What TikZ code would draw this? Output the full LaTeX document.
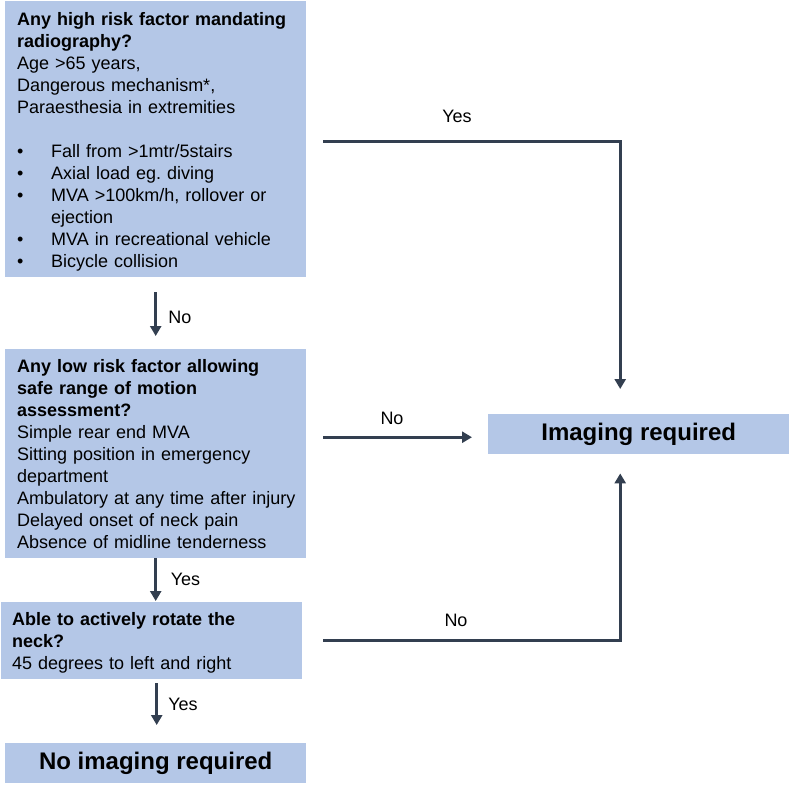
\documentclass[tikz,border=0pt]{standalone}
\usepackage{fontspec}
\setmainfont{Liberation Sans}
\usetikzlibrary{arrows.meta,calc}
\definecolor{boxfill}{HTML}{B4C7E7}
\definecolor{linecol}{HTML}{333F50}
\hyphenpenalty=10000
\exhyphenpenalty=10000
\frenchspacing
\newcommand{\topstrut}{\rule{0pt}{18pt}}
\newcommand{\botstrut}{\rule[-4pt]{0pt}{4pt}}
\newcommand{\bul}[1]{\makebox[34pt][l]{\textbullet}#1}
\begin{document}
\begin{tikzpicture}[x=1pt,y=-1pt,
  qbox/.style={fill=boxfill, anchor=north west, inner ysep=0pt, inner xsep=12pt,
    minimum width=301pt, align=left, text=black,
    font=\fontsize{18pt}{22pt}\selectfont},
  endbox/.style={fill=boxfill, anchor=north west, inner sep=0pt,
    minimum width=301pt, minimum height=40pt, align=center, text=black,
    font=\fontsize{24pt}{28pt}\selectfont\bfseries},
  conn/.style={draw=linecol, line width=3pt, -{Triangle[length=10pt,width=11pt]}},
  lbl/.style={inner sep=0pt, text=black, font=\fontsize{18pt}{22pt}\selectfont},
]
\useasboundingbox (0,0) rectangle (789,785);

\node[qbox, minimum height=276pt, text width=277pt] (b1) at (5,1) {%
\topstrut\textbf{Any high risk factor mandating}\\
\textbf{radiography?}\\
Age >65 years,\\
Dangerous mechanism*,\\
Paraesthesia in extremities\\[22pt]
\bul{Fall from >1mtr/5stairs}\\
\bul{Axial load eg. diving}\\
\bul{MVA >100km/h, rollover or}\\
\hspace*{34pt}ejection\\
\bul{MVA in recreational vehicle}\\
\bul{Bicycle collision}\botstrut};

\node[qbox, minimum height=209pt, text width=277pt] (b2) at (5,349) {%
\topstrut\textbf{Any low risk factor allowing}\\
\textbf{safe range of motion}\\
\textbf{assessment?}\\
Simple rear end MVA\\
Sitting position in emergency\\
department\\
\makebox[277pt][l]{Ambulatory at any time after injury}\\
Delayed onset of neck pain\\
Absence of midline tenderness\botstrut};

\node[qbox, minimum height=77pt, inner xsep=11pt, text width=279pt] (b3) at (1,602) {%
\topstrut\textbf{Able to actively rotate the}\\
\textbf{neck?}\\
45 degrees to left and right\botstrut};

\node[endbox] (b4) at (5,743) {No imaging required};
\node[endbox] (img) at (488,414) {Imaging required};

\coordinate (t1) at ($(img.north)+(-18.5,-25)$);
\coordinate (t3) at ($(img.south)+(-18.5,19)$);

\draw[conn] ($(b1.east)+(17,2)$) -| (t1);
\draw[conn] ($(b2.east |- img.west)+(17,3)$) -- ($(img.west)+(-16,3)$);
\draw[conn] ($(b3.east)+(21,0)$) -| (t3);
\draw[conn] ($(b1.south)+(0,15)$) -- ($(b2.north)+(0,-13)$);
\draw[conn] (b2.south) -- ($(b2.south |- b3.north)+(0,-1)$);
\draw[conn] ($(b3.south)+(5,4)$) -- ($(b3.south |- b4.north)+(5,-18)$);

\node[lbl] (l1) at (457,116) {Yes};
\node[lbl] (l2) at (392,418) {No};
\node[lbl] (l3) at (456,620) {No};
\node[lbl] (l4) at (180,317) {No};
\node[lbl] (l5) at (185.5,579) {Yes};
\node[lbl] (l6) at (183,704) {Yes};
\end{tikzpicture}
\end{document}
